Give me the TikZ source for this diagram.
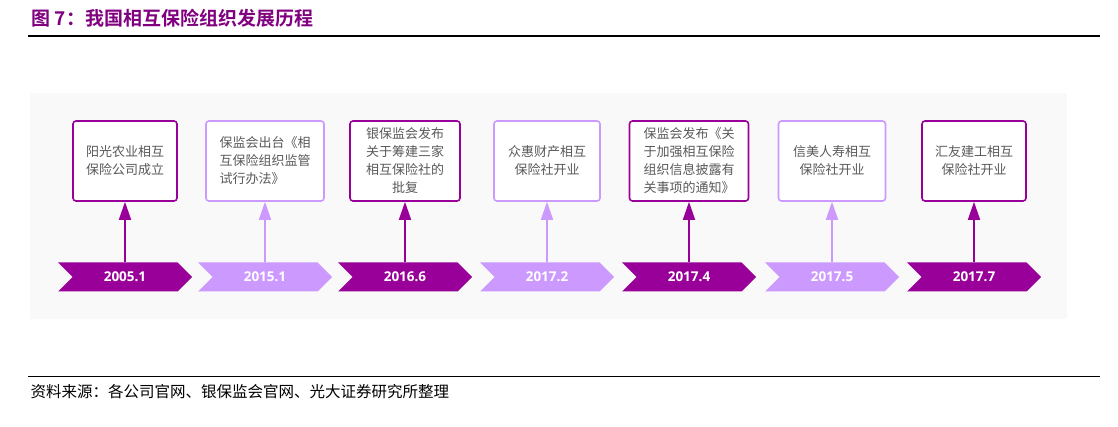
\documentclass[tikz,border=0pt]{standalone}
\usepackage{fontspec}
\setmainfont{Open Sans}
\newfontfamily\cjk{Noto Sans CJK SC}
\newfontfamily\cjkbold{Noto Sans CJK SC Bold}
\usetikzlibrary{shapes.symbols,arrows.meta}
\definecolor{darkpurple}{HTML}{990099}
\definecolor{lightpurple}{HTML}{CC99FF}
\definecolor{boxtext}{HTML}{595959}
\definecolor{panelgray}{HTML}{F9F9F9}
\definecolor{titlepurple}{HTML}{800080}
\tikzset{
    eventbox/.style = {draw=#1, line width=1.6pt, rounded corners=3pt, fill=white,
                       minimum height=80pt, inner sep=2pt, align=center, text=boxtext,
                       font=\cjk\fontsize{13}{18}\selectfont},
    datetag/.style  = {signal, signal from=west, signal to=east, fill=#1,
                       minimum width=134pt, minimum height=29pt, inner sep=0pt,
                       text=white, font=\bfseries\fontsize{13.5}{16}\selectfont},
    riser/.style    = {draw=#1, line width=1.6pt, -{Triangle[width=12pt,length=18pt]}}
}

\begin{document}
\begin{tikzpicture}[x=1pt,y=-1pt]
          \useasboundingbox (0,0) rectangle (1118,427);

          \begin{scope}
            \node[anchor=west, text=titlepurple, font=\cjkbold\fontsize{19}{21}\selectfont]
                 (title) at (28,18) {图 7：我国相互保险组织发展历程};
            \draw[line width=1.2pt] (28,36) -- (1100,36);
            \fill[panelgray] (30,93) rectangle (1067,319);
          \end{scope}

          \begin{scope}
            \node[eventbox=darkpurple,  minimum width=104pt] (b1) at (125,161)   {阳光农业相互\\保险公司成立};
            \node[eventbox=lightpurple, minimum width=118pt, align=left] (b2) at (265,161) {保监会出台《相\\互保险组织监管\\试行办法》};
            \node[eventbox=darkpurple,  minimum width=110pt] (b3) at (405,161)   {银保监会发布\\关于筹建三家\\相互保险社的\\批复};
            \node[eventbox=lightpurple, minimum width=106pt] (b4) at (547,161)   {众惠财产相互\\保险社开业};
            \node[eventbox=darkpurple,  minimum width=119pt] (b5) at (689,161)   {保监会发布《关\\于加强相互保险\\组织信息披露有\\关事项的通知》};
            \node[eventbox=lightpurple, minimum width=107pt] (b6) at (832,161)   {信美人寿相互\\保险社开业};
            \node[eventbox=darkpurple,  minimum width=104pt] (b7) at (974,161)   {汇友建工相互\\保险社开业};
          \end{scope}

          \begin{scope}
            \node[datetag=darkpurple]  (d1) at (125,277) {2005.1};
            \node[datetag=lightpurple] (d2) at (265,277) {2015.1};
            \node[datetag=darkpurple]  (d3) at (405,277) {2016.6};
            \node[datetag=lightpurple] (d4) at (547,277) {2017.2};
            \node[datetag=darkpurple]  (d5) at (689,277) {2017.4};
            \node[datetag=lightpurple] (d6) at (832,277) {2017.5};
            \node[datetag=darkpurple]  (d7) at (974,277) {2017.7};
          \end{scope}

          \begin{scope}
            \draw[riser=darkpurple]  (d1.north) -- (b1.south);
            \draw[riser=lightpurple] (d2.north) -- (b2.south);
            \draw[riser=darkpurple]  (d3.north) -- (b3.south);
            \draw[riser=lightpurple] (d4.north) -- (b4.south);
            \draw[riser=darkpurple]  (d5.north) -- (b5.south);
            \draw[riser=lightpurple] (d6.north) -- (b6.south);
            \draw[riser=darkpurple]  (d7.north) -- (b7.south);
          \end{scope}

          \begin{scope}
            \draw[line width=1pt] (28,376) -- (1100,376);
            \node[anchor=west, font=\cjk\fontsize{15.5}{17}\selectfont]
                 (source) at (27,392) {资料来源：各公司官网、银保监会官网、光大证券研究所整理};
          \end{scope}
        \end{tikzpicture}
\end{document}
